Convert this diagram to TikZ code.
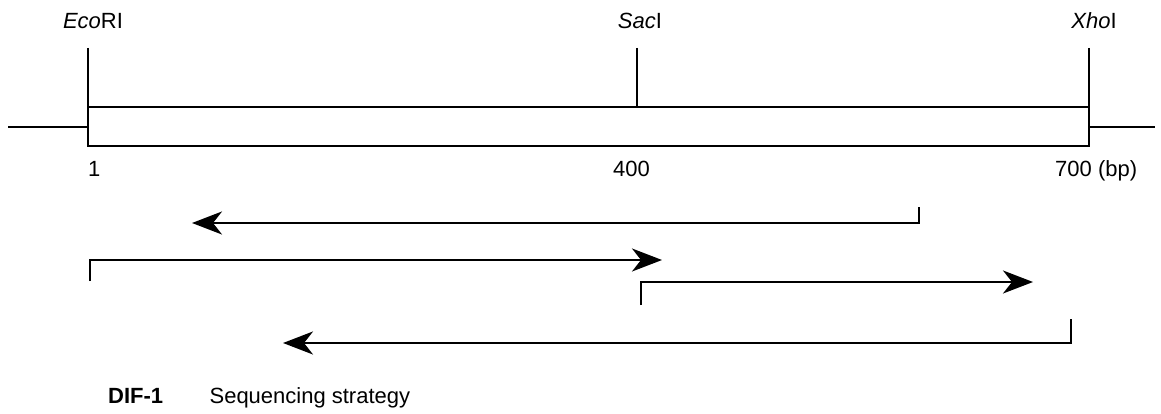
\documentclass[tikz,border=0pt]{standalone}
\usepackage{fontspec}
\setmainfont{Liberation Sans}
\usetikzlibrary{arrows.meta,positioning}
\tikzset{
  Insert/.style={draw, line width=2.2pt},
  Site/.style={draw, line width=1.7pt},
  Read/.style={
    draw, line width=2.2pt,
    -{Stealth[length=30pt,width=23pt,inset=9pt]}
  },
  Lbl/.style={font=\fontsize{22}{26}\selectfont, inner sep=0pt, anchor=base},
  LblW/.style={Lbl, anchor=base west}
}

\begin{document}
\begin{tikzpicture}[x=1pt, y=-1pt, line cap=butt, line join=miter]
  \useasboundingbox (0,0) rectangle (1161,414);

  % vector and insert
  \coordinate (VecL) at (8,127);
  \coordinate (BoxW) at (88,127);
  \coordinate (BoxE) at (1089,127);
  \coordinate (VecR) at (1155,127);
  \coordinate (BoxNW) at (88,107);
  \coordinate (BoxSE) at (1089,146);

  % restriction sites
  \coordinate (EcoTop) at (88,48);
  \coordinate (EcoBot) at (88,107);
  \coordinate (SacTop) at (637,48);
  \coordinate (SacBot) at (637,107);
  \coordinate (XhoTop) at (1089,48);
  \coordinate (XhoBot) at (1089,107);

  % edges
  \draw[Insert] (VecL) -- (BoxW);
  \draw[Insert] (BoxE) -- (VecR);
  \draw[Insert] (BoxNW) rectangle (BoxSE);
  \draw[Site] (EcoTop) -- (EcoBot);
  \draw[Site] (SacTop) -- (SacBot);
  \draw[Site] (XhoTop) -- (XhoBot);

  \node[Lbl] (EcoLbl) at (93,29) {\textit{Eco}RI};
  \node[Lbl] (SacLbl) at (640,29) {\textit{Sac}I};
  \node[Lbl] (XhoLbl) at (1094,29) {\textit{Xho}I};

  \node[LblW] (Pos1) at (88,177) {1};
  \node[LblW] (Pos400) at (613,177) {400};
  \node[LblW] (Pos700) at (1055,177) {700 (bp)};

  % sequencing reads
  \coordinate (ReadAs) at (919,207);
  \coordinate (ReadAc) at (919,223);
  \coordinate (ReadAe) at (192,223);
  \coordinate (ReadBs) at (90,281);
  \coordinate (ReadBc) at (90,260);
  \coordinate (ReadBe) at (662,260);
  \coordinate (ReadCs) at (641,305);
  \coordinate (ReadCc) at (641,282);
  \coordinate (ReadCe) at (1033,282);
  \coordinate (ReadDs) at (1071,319);
  \coordinate (ReadDc) at (1071,343);
  \coordinate (ReadDe) at (283,343);

  \draw[Read] (ReadAs) -- (ReadAc) -- (ReadAe);
  \draw[Read] (ReadBs) -- (ReadBc) -- (ReadBe);
  \draw[Read] (ReadCs) -- (ReadCc) -- (ReadCe);
  \draw[Read] (ReadDs) -- (ReadDc) -- (ReadDe);

  % caption
  \node[LblW] (FigNo) at (108,403) {\textbf{DIF-1}};
  \node[LblW, right=46pt of FigNo.base east, anchor=base west] (FigTxt) {Sequencing strategy};
\end{tikzpicture}
\end{document}
